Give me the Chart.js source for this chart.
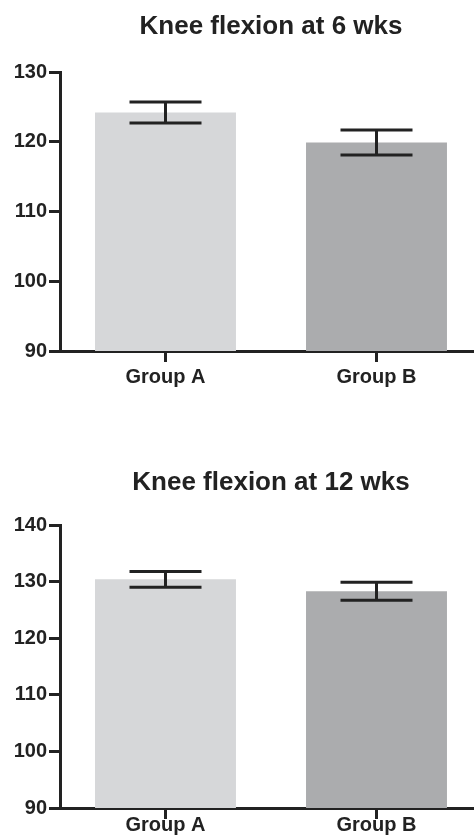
<!DOCTYPE html>
<html>
<head>
<meta charset="utf-8">
<script src="https://cdn.jsdelivr.net/npm/chart.js@4.4.0/dist/chart.umd.min.js"></script>
<style>
  html, body { margin: 0; padding: 0; background: #fff; }
  body { width: 474px; height: 840px; overflow: hidden; position: relative; }
  canvas { position: absolute; left: 0; }
  #chart6 { top: 0; }
  #chart12 { top: 420px; }
</style>
</head>
<body>
<canvas id="chart6" width="482" height="420"></canvas>
<canvas id="chart12" width="482" height="420"></canvas>
<script>
const groups = ['Group A', 'Group B'];
const flexion6 = [124.2, 119.9];
const sem6 = [1.5, 1.8];
const flexion12 = [130.4, 128.3];
const sem12 = [1.4, 1.6];
const ticks6 = [90, 100, 110, 120, 130];
const ticks12 = [90, 100, 110, 120, 130, 140];

const barColors = ['#d6d7d9', '#abacae'];
const ink = '#222';

Chart.defaults.font.family = '"Liberation Sans", Arial, sans-serif';

// mean +/- SEM whiskers, drawn on top of the bars
const errorBars = {
    id: 'errorBars',
    afterDatasetsDraw(chart, args, opts) {
        const meta = chart.getDatasetMeta(0);
        const y = chart.scales.y;
        const c = chart.ctx;
        const half = opts.capWidth / 2;
        c.save();
        c.strokeStyle = ink;
        c.lineWidth = 3;
        meta.data.forEach((bar, i) => {
            const m = chart.data.datasets[0].data[i];
            const e = opts.errors[i];
            const top = y.getPixelForValue(m + e);
            const bot = y.getPixelForValue(m - e);
            c.beginPath();
            c.moveTo(bar.x, top); c.lineTo(bar.x, bot);
            c.moveTo(bar.x - half, top); c.lineTo(bar.x + half, top);
            c.moveTo(bar.x - half, bot); c.lineTo(bar.x + half, bot);
            c.stroke();
        });
        c.restore();
    }
};

function makeChart(id, title, values, errors, ticks, box) {
    const tickFont = { size: 20, weight: 'bold' };
    return new Chart(document.getElementById(id), {
        type: 'bar',
        data: {
            labels: groups,
            datasets: [{
                data: values,
                backgroundColor: barColors,
                borderWidth: 0,
                barPercentage: 0.668,
                categoryPercentage: 1
            }]
        },
        options: {
            responsive: false,
            animation: false,
            devicePixelRatio: 1,
            layout: { padding: 0 },
            plugins: {
                legend: { display: false },
                tooltip: { enabled: false },
                title: {
                    display: true,
                    text: title,
                    fullSize: false,
                    color: ink,
                    font: { size: 26, weight: 'bold', lineHeight: 1.2 },
                    padding: { top: box.titleTop, bottom: box.titleBottom }
                },
                errorBars: { errors: errors, capWidth: 72 }
            },
            scales: {
                x: {
                    offset: true,
                    grid: { offset: false, drawOnChartArea: false, drawTicks: true, tickLength: 11, lineWidth: 3, color: ink },
                    border: { display: true, width: 3, color: ink },
                    ticks: { color: ink, font: tickFont, padding: box.labelPad, maxRotation: 0 },
                    afterFit: s => { s.height = box.xHeight; }
                },
                y: {
                    min: ticks[0],
                    max: ticks[ticks.length - 1],
                    grid: { drawOnChartArea: false, drawTicks: true, tickLength: 11, lineWidth: 3, color: ink },
                    border: { display: true, width: 3, color: ink },
                    ticks: { color: ink, font: tickFont, padding: 2 },
                    afterBuildTicks: s => { s.ticks = ticks.map(v => ({ value: v })); },
                    afterFit: s => { s.width = 60; }
                }
            }
        },
        plugins: [errorBars]
    });
}

makeChart('chart6', 'Knee flexion at 6 wks', flexion6, sem6, ticks6,
    { titleTop: 11.5, titleBottom: 29.3, xHeight: 69, labelPad: 3 });
makeChart('chart12', 'Knee flexion at 12 wks', flexion12, sem12, ticks12,
    { titleTop: 47.5, titleBottom: 26.3, xHeight: 32, labelPad: -6 });
</script>
</body>
</html>
